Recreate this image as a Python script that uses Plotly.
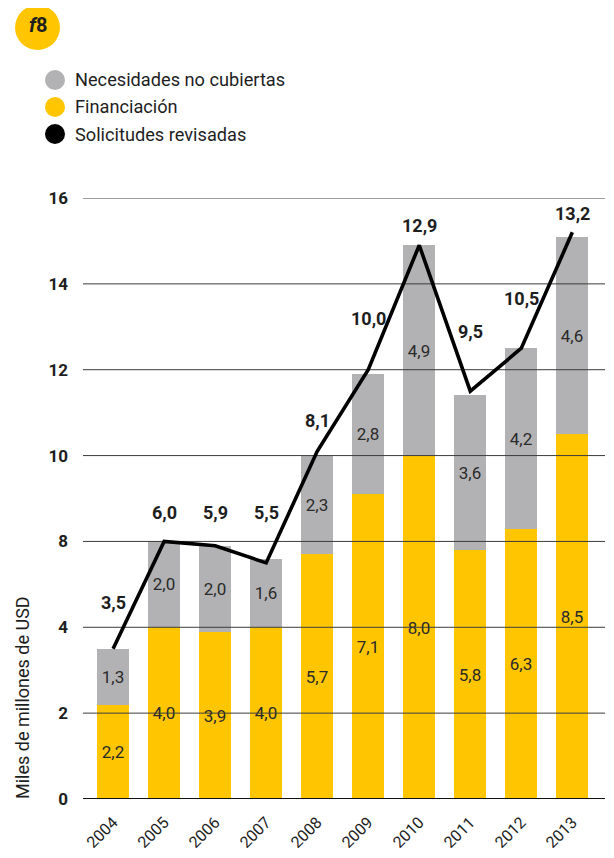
import plotly.graph_objects as go

# ---------------- data ----------------
years = [2004, 2005, 2006, 2007, 2008, 2009, 2010, 2011, 2012, 2013]
financiacion = [2.2, 4.0, 3.9, 4.0, 5.7, 7.1, 8.0, 5.8, 6.3, 8.5]
necesidades = [1.3, 2.0, 2.0, 1.6, 2.3, 2.8, 4.9, 3.6, 4.2, 4.6]
solicitudes = [3.5, 6.0, 5.9, 5.5, 8.1, 10.0, 12.9, 9.5, 10.5, 13.2]
y_tick_vals = [0, 2, 4, 6, 8, 10, 12, 14]
y_tick_text = ["0", "2", "4", "8", "10", "12", "14", "16"]
legend_names = ["Necesidades no cubiertas", "Financiación", "Solicitudes revisadas"]
y_title = "Miles de millones de USD"
badge = "<b><i>f</i>8</b>"

# ---------------- style ----------------
FONT = "Roboto"
YELLOW = "#FFC600"
GRAY = "#B2B2B4"
TXT = "#1e1e1e"
OFF = 8  # page body margin of the browser
W, H = 614 - OFF, 858 - OFF
ML, MR, MT, MB = 83 - OFF, 9, 198 - OFF, 59
X_RANGE = [years[0] - 0.59, years[-1] + 0.64]
Y_RANGE = [0, 14]
label_shift = [46, 29, 33, 50, 31, 51, 20, 60, 50, 19]  # px above point

PW = W - ML - MR
PH = H - MT - MB


def px_x(px):
    return (px - OFF - ML) / PW


def px_y(py):
    return (H - MB - (py - OFF)) / PH


def fmt(v):
    return f"{v:.1f}".replace(".", ",")


fig = go.Figure()

bar_common = dict(width=0.63, textposition="inside", insidetextanchor="middle",
                  textangle=0, textfont=dict(family=FONT, size=17, color="#2a2a2a"),
                  showlegend=False, hoverinfo="skip", marker_line_width=0)
fig.add_trace(go.Bar(x=years, y=financiacion, marker_color=YELLOW,
                     text=[fmt(v) for v in financiacion], name=legend_names[1], **bar_common))
fig.add_trace(go.Bar(x=years, y=necesidades, marker_color=GRAY,
                     text=[fmt(v) for v in necesidades], name=legend_names[0], **bar_common))

# gridlines drawn above the bars
gx, gy = [], []
for v in y_tick_vals[1:]:
    gx += [X_RANGE[0], X_RANGE[1], None]
    gy += [v, v, None]
fig.add_trace(go.Scatter(x=gx, y=gy, mode="lines", line=dict(color="#3c3c3c", width=1),
                         showlegend=False, hoverinfo="skip", cliponaxis=False))
fig.add_trace(go.Scatter(x=X_RANGE, y=[Y_RANGE[0]] * 2, mode="lines",
                         line=dict(color="#111111", width=2.2),
                         showlegend=False, hoverinfo="skip", cliponaxis=False))

fig.add_trace(go.Scatter(x=years, y=solicitudes, mode="lines", name=legend_names[2],
                         line=dict(color="#000000", width=3.6), showlegend=False,
                         hoverinfo="skip", cliponaxis=False))

annotations = []
for x, v, dy in zip(years, solicitudes, label_shift):
    annotations.append(dict(x=x, y=v, xref="x", yref="y", text=f"<b>{fmt(v)}</b>",
                            showarrow=False, yshift=dy, yanchor="middle",
                            font=dict(family=FONT, size=18, color=TXT)))

# y axis title
annotations.append(dict(x=px_x(22), y=px_y(698), xref="paper", yref="paper",
                        text=y_title, textangle=-90, showarrow=False,
                        xanchor="center", yanchor="middle",
                        font=dict(family=FONT, size=18, color=TXT)))

shapes = []
# badge
shapes.append(dict(type="circle", xref="paper", yref="paper", xsizemode="pixel",
                   ysizemode="pixel", xanchor=px_x(37.5), yanchor=px_y(27.5),
                   x0=-22.5, x1=22.5, y0=-22.5, y1=22.5, fillcolor=YELLOW,
                   line=dict(width=0)))
annotations.append(dict(x=px_x(37.5), y=px_y(25), xref="paper", yref="paper",
                        text=badge, showarrow=False, xanchor="center", yanchor="middle",
                        font=dict(family=FONT, size=20, color=TXT)))

# legend
leg_colors = [GRAY, YELLOW, "#000000"]
leg_y = [80, 107, 134]
for name, col, yy in zip(legend_names, leg_colors, leg_y):
    shapes.append(dict(type="circle", xref="paper", yref="paper", xsizemode="pixel",
                       ysizemode="pixel", xanchor=px_x(55), yanchor=px_y(yy),
                       x0=-10, x1=10, y0=-10, y1=10, fillcolor=col, line=dict(width=0)))
    annotations.append(dict(x=px_x(73), y=px_y(yy), xref="paper", yref="paper",
                            text=name, showarrow=False, xanchor="left", yanchor="middle",
                            font=dict(family=FONT, size=18.2, color=TXT)))

fig.update_layout(
    width=W, height=H,
    margin=dict(l=ML, r=MR, t=MT, b=MB, autoexpand=False),
    paper_bgcolor="white", plot_bgcolor="white",
    barmode="stack", bargap=0,
    showlegend=False,
    font=dict(family=FONT, color=TXT),
    annotations=annotations, shapes=shapes,
    uniformtext=dict(mode=False),
)
fig.update_xaxes(range=X_RANGE, tickvals=years, ticktext=[str(y) for y in years],
                 tickangle=-45, showgrid=False, zeroline=False, showline=False,
                 ticks="", ticklabelstandoff=10,
                 tickfont=dict(family=FONT, size=16, color=TXT), fixedrange=True)
fig.update_yaxes(range=Y_RANGE, tickvals=y_tick_vals, ticktext=[f"<b>{t}</b>" for t in y_tick_text],
                 showgrid=False, zeroline=False, showline=False, ticks="",
                 ticklabelstandoff=14,
                 tickfont=dict(family=FONT, size=17, color=TXT), fixedrange=True)

fig.write_html("out.html")
